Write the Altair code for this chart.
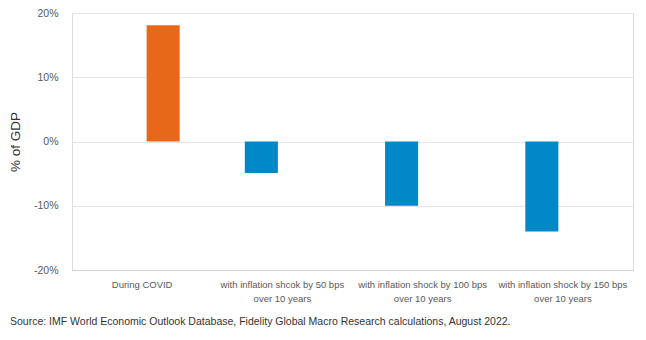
import altair as alt
import pandas as pd

categories = [
    "During COVID",
    "with inflation shcok by 50 bps\nover 10 years",
    "with inflation shock by 100 bps\nover 10 years",
    "with inflation shock by 150 bps\nover 10 years",
]
series = ["COVID", "Shock", "Shock", "Shock"]
values = [18.1, -4.9, -10.0, -14.0]
y_ticks = [-20, -10, 0, 10, 20]
source_text = "Source: IMF World Economic Outlook Database, Fidelity Global Macro Research calculations, August 2022."

df = pd.DataFrame({"category": categories, "series": series, "value": values})

FONT = "Liberation Sans"

chart = (
    alt.Chart(df)
    .mark_bar()
    .encode(
        x=alt.X(
            "category:N",
            sort=categories,
            scale=alt.Scale(paddingInner=0, paddingOuter=0),
            axis=alt.Axis(
                title=None,
                labelAngle=0,
                labelExpr="split(datum.label, '\\n')",
                labelFont=FONT,
                labelFontSize=9.5,
                labelColor="#595959",
                labelPadding=9,
                labelLineHeight=14,
                ticks=False,
                domain=True,
                domainColor="#d0d0d0",
                grid=False,
            ),
        ),
        xOffset=alt.XOffset(
            "series:N",
            scale=alt.Scale(domain=["Shock", "COVID"], paddingInner=0.214, paddingOuter=0.774),
        ),
        y=alt.Y(
            "value:Q",
            scale=alt.Scale(domain=[-20, 20], nice=False),
            axis=alt.Axis(
                title="% of GDP",
                values=y_ticks,
                labelExpr="datum.value + '%'",
                labelFont=FONT,
                labelFontSize=10.5,
                labelColor="#595959",
                labelPadding=14,
                titleFont=FONT,
                titleFontSize=13.5,
                titleFontWeight="normal",
                titleColor="#333333",
                titlePadding=11,
                ticks=False,
                domain=False,
                grid=True,
                gridColor="#e4e4e4",
                gridWidth=1,
            ),
        ),
        color=alt.Color(
            "series:N",
            scale=alt.Scale(domain=["COVID", "Shock"], range=["#E8681A", "#0088C8"]),
            legend=None,
        ),
    )
    .properties(
        width=561,
        height=257,
        autosize=alt.AutoSizeParams(type="none"),
        padding={"left": 72, "top": 13, "right": 13, "bottom": 70},
        title=alt.TitleParams(
            text=source_text,
            orient="bottom",
            anchor="start",
            frame="group",
            dx=-62,
            offset=14,
            font=FONT,
            fontSize=10.5,
            fontWeight="normal",
            color="#333333",
        ),
    )
    .configure_view(stroke=None)
    .configure(background="white")
)

chart.save("out.html", embed_options={"renderer": "svg", "actions": False})
